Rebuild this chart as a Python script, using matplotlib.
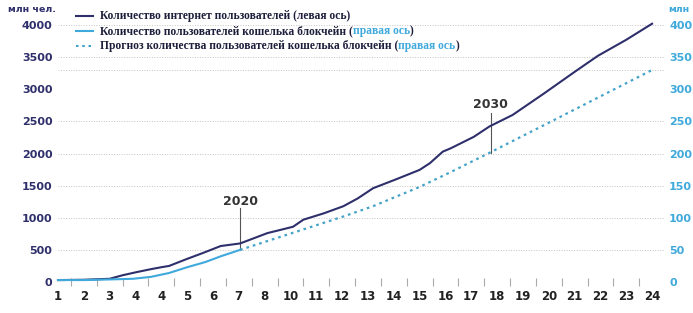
import matplotlib.pyplot as plt
from matplotlib.lines import Line2D

# данные
tick_labels = ['1', '2', '3', '4', '4', '5', '6', '7', '8', '10', '11', '12',
               '13', '14', '15', '16', '17', '18', '19', '20', '21', '22', '23', '24']

net_x = [0, 1, 2, 2.5, 3, 3.6, 4, 4.3, 5, 5.6, 6.3, 7.05, 8.1, 9.1, 9.5, 10.3,
         11.05, 11.6, 12.2, 13.1, 14.0, 14.4, 14.9, 15.2, 16.1, 16.7, 17.6,
         18.8, 20.0, 20.9, 22.0, 23.0]
net_users = [30, 35, 50, 105, 150, 200, 230, 250, 360, 450, 560, 600, 760, 860,
             970, 1070, 1180, 1300, 1460, 1600, 1745, 1850, 2030, 2080, 2260,
             2420, 2600, 2930, 3270, 3520, 3770, 4020]

wallet_x = [0, 1, 2, 2.9, 3.6, 4.3, 5, 5.7, 6.3, 7.05]
wallet_users = [3, 3, 4, 5, 8, 14, 23, 31, 40, 50]

forecast_x = [7.05, 9.05, 11.05, 12.2, 14.0, 15.2, 16.7, 19.2, 23.0]
forecast_users = [50, 76, 102, 118, 148, 171, 201, 252, 330]

grid_levels = [0, 500, 1000, 1500, 2000, 2500, 3300, 3500, 4000]

navy = '#2e2f6b'
blue = '#3fa9dc'
dots = '#43a3c8'
grey = '#c4c4c4'

fig = plt.figure(figsize=(6.93, 3.13), dpi=100)
ax = fig.add_axes([58 / 693, 31 / 313, 607 / 693, 257 / 313])
ax2 = ax.twinx()

ax.set_xlim(0, 23.5)
ax.set_ylim(0, 4000)
ax2.set_ylim(0, 400)

for g in grid_levels:
    ax.axhline(g, color=grey, lw=0.7, ls=(0, (1, 1.6)), zorder=0)

ax.plot(net_x, net_users, color=navy, lw=1.5, clip_on=False, zorder=3)
ax2.plot(wallet_x, wallet_users, color=blue, lw=1.5, clip_on=False, zorder=3)
ax2.plot(forecast_x, forecast_users, color=dots, lw=1.6, ls=(0, (1.2, 1.8)),
         clip_on=False, zorder=3)

for a in (ax, ax2):
    for s in a.spines.values():
        s.set_visible(False)
    a.set_facecolor('none')

ax.set_xticks(range(len(tick_labels)))
ax.set_xticklabels(tick_labels)
ax.set_xticks([i + 0.5 for i in range(23)], minor=True)
ax.tick_params(axis='x', which='major', length=0, pad=6, labelsize=8.5,
               labelcolor='#222222')
ax.tick_params(axis='x', which='minor', length=6, direction='inout',
               color='#aaaaaa', width=0.8)
for lab in ax.get_xticklabels():
    lab.set_fontweight('bold')

ax.set_yticks(range(0, 4001, 500))
ax.tick_params(axis='y', length=0, pad=4, labelsize=8, labelcolor=navy)
ax2.set_yticks(range(0, 401, 50))
ax2.tick_params(axis='y', length=0, pad=3, labelsize=8, labelcolor=blue)
for lab in ax.get_yticklabels() + ax2.get_yticklabels():
    lab.set_fontweight('bold')

fig.text(8 / 693, 1 - 10 / 313, 'млн чел.', color=navy, fontsize=6.8,
         fontweight='bold', va='center', ha='left')
fig.text(668 / 693, 1 - 10 / 313, 'млн', color=blue, fontsize=6.8,
         fontweight='bold', va='center', ha='left')

# подписи годов
ax.plot([7.05, 7.05], [500, 1150], color='#555555', lw=0.8, zorder=2)
ax.text(7.05, 1250, '2020', ha='center', va='center', fontsize=9,
        fontweight='bold', color='#333333')
ax.plot([16.75, 16.75], [2010, 2630], color='#555555', lw=0.8, zorder=2)
ax.text(16.75, 2760, '2030', ha='center', va='center', fontsize=9,
        fontweight='bold', color='#333333')

# легенда вручную
legend_rows = [
    (navy, '-', [('Количество интернет пользователей (левая ось)', '#1e1e3c')]),
    (blue, '-', [('Количество пользователей кошелька блокчейн (', '#1e1e3c'),
                 ('правая ось', blue), (')', '#1e1e3c')]),
    (dots, (0, (1.2, 1.8)), [('Прогноз количества пользователей кошелька блокчейн (', '#1e1e3c'),
                             ('правая ось', blue), (')', '#1e1e3c')]),
]
renderer = fig.canvas.get_renderer()
for k, (col, ls, parts) in enumerate(legend_rows):
    y = 1 - (16 + 15 * k) / 313
    fig.add_artist(Line2D([76 / 693, 93 / 693], [y, y], color=col, lw=1.5, ls=ls,
                          transform=fig.transFigure))
    x = 100 / 693
    for txt, c in parts:
        t = fig.text(x, y, txt, color=c, fontsize=8.3, fontweight='bold',
                     family='Liberation Serif', va='center', ha='left')
        bb = t.get_window_extent(renderer)
        x += bb.width / 693

fig.savefig('out.png', dpi=100)
